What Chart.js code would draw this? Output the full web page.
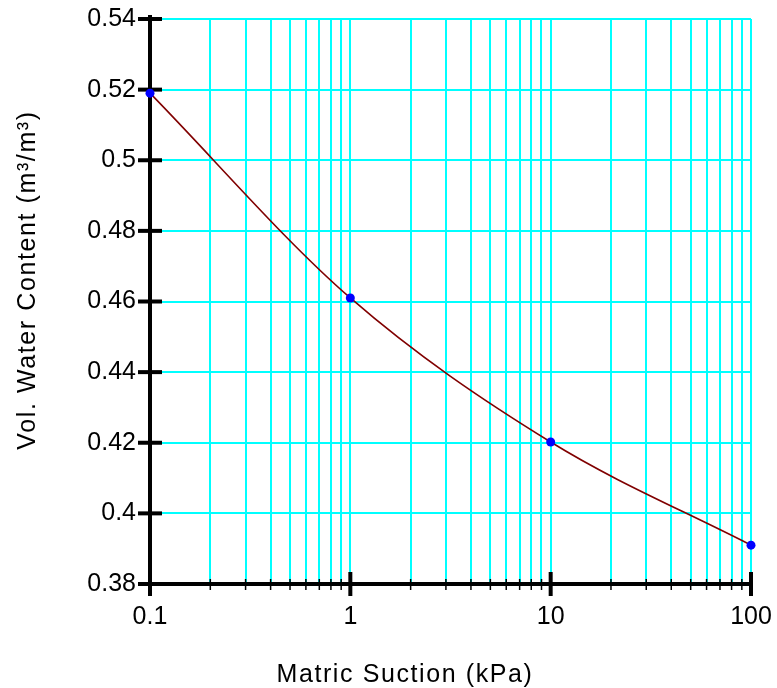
<!DOCTYPE html>
<html>
<head>
<meta charset="utf-8">
<title>Soil water retention</title>
<script src="https://cdn.jsdelivr.net/npm/chart.js@4.4.1/dist/chart.umd.min.js"></script>
<style>
  html, body { margin: 0; padding: 0; background: #fff; }
  #wrap { width: 777px; height: 688px; position: relative; }
</style>
</head>
<body>
<div id="wrap"><canvas id="c" width="777" height="688"></canvas></div>
<script>
// Measured points: matric suction (kPa) vs volumetric water content (m3/m3)
const suction = [0.1, 1, 10, 100];
const waterContent = [0.519, 0.461, 0.4202, 0.391];

// Log-axis grid positions and the decades that get labels
const xTickValues = [0.1, 0.2, 0.3, 0.4, 0.5, 0.6, 0.7, 0.8, 0.9,
                     1, 2, 3, 4, 5, 6, 7, 8, 9,
                     10, 20, 30, 40, 50, 60, 70, 80, 90, 100];
const xMajorTicks = [0.1, 1, 10, 100];
const xMajorLabels = ['0.1', '1', '10', '100'];

const yTickValues = [0.38, 0.40, 0.42, 0.44, 0.46, 0.48, 0.50, 0.52, 0.54];
const yTickLabels = ['0.38', '0.4', '0.42', '0.44', '0.46', '0.48', '0.5', '0.52', '0.54'];

const xTitle = 'Matric Suction (kPa)';
const yTitle = 'Vol. Water Content (m\u00B3/m\u00B3)';

const FONT = '"Liberation Sans", Arial, Helvetica, sans-serif';
const GRID = '#00FFFF';

const points = suction.map((s, i) => ({ x: s, y: waterContent[i] }));

// Black axis lines, tick marks and axis titles
const axisFrame = {
  id: 'axisFrame',
  beforeDatasetsDraw(chart) {
    const { ctx, chartArea: a, scales: { x, y } } = chart;
    const seg = (x1, y1, x2, y2) => { ctx.beginPath(); ctx.moveTo(x1, y1); ctx.lineTo(x2, y2); ctx.stroke(); };
    ctx.save();
    ctx.strokeStyle = '#000';
    ctx.lineCap = 'butt';

    ctx.lineWidth = 1.5;
    xTickValues.forEach(v => {
      if (xMajorTicks.includes(v)) return;
      const px = x.getPixelForValue(v);
      seg(px, a.bottom - 5, px, a.bottom + 6);
    });

    ctx.lineWidth = 4;
    seg(a.left, a.top - 4, a.left, a.bottom + 2);
    seg(a.left - 2, a.bottom, a.right + 2, a.bottom);

    yTickValues.forEach(v => {
      const py = y.getPixelForValue(v);
      seg(a.left - 12, py, a.left + 12, py);
    });
    xMajorTicks.forEach(v => {
      const px = x.getPixelForValue(v);
      seg(px, a.bottom - 12, px, a.bottom + 12);
    });
    ctx.restore();
  },
  afterDraw(chart) {
    const { ctx } = chart;
    ctx.save();
    ctx.fillStyle = '#000';
    ctx.font = '25px ' + FONT;
    ctx.letterSpacing = '1.6px';
    ctx.textAlign = 'center';
    ctx.textBaseline = 'alphabetic';
    ctx.fillText(xTitle, 405, 682);

    ctx.translate(35, 280);
    ctx.rotate(-Math.PI / 2);
    ctx.fillText(yTitle, 0, 0);
    ctx.restore();
  }
};

new Chart(document.getElementById('c'), {
  type: 'scatter',
  data: {
    datasets: [
      {
        label: 'fit',
        data: points,
        showLine: true,
        borderColor: '#800000',
        borderWidth: 1.6,
        cubicInterpolationMode: 'monotone',
        pointRadius: 0,
        pointHoverRadius: 0,
        fill: false,
        clip: false,
        order: 2
      },
      {
        label: 'measured',
        data: points,
        showLine: false,
        pointRadius: 4.5,
        pointBackgroundColor: '#0000FF',
        pointBorderColor: '#0000FF',
        pointBorderWidth: 0,
        clip: false,
        order: 1
      }
    ]
  },
  options: {
    responsive: false,
    animation: false,
    devicePixelRatio: 1,
    layout: { padding: { left: 0, right: 26, top: 19, bottom: 0 } },
    plugins: {
      legend: { display: false },
      tooltip: { enabled: false },
      title: { display: false }
    },
    events: [],
    scales: {
      x: {
        type: 'logarithmic',
        position: 'bottom',
        min: 0.1,
        max: 100,
        afterBuildTicks(scale) {
          scale.ticks = xTickValues.map(v => ({ value: v }));
        },
        afterFit(scale) {
          scale.height = 104;
          scale.paddingLeft = 0;
          scale.paddingRight = 0;
        },
        ticks: {
          autoSkip: false,
          maxRotation: 0,
          minRotation: 0,
          padding: 18,
          color: '#000',
          font: { family: FONT, size: 25 },
          callback(value) {
            const i = xMajorTicks.findIndex(m => Math.abs(m - value) < 1e-9);
            return i >= 0 ? xMajorLabels[i] : '';
          }
        },
        grid: { color: GRID, lineWidth: 2, drawTicks: false },
        border: { display: false }
      },
      y: {
        type: 'linear',
        position: 'left',
        min: 0.38,
        max: 0.54,
        afterBuildTicks(scale) {
          scale.ticks = yTickValues.map(v => ({ value: v }));
        },
        afterFit(scale) {
          scale.width = 150;
          scale.paddingTop = 0;
          scale.paddingBottom = 0;
        },
        ticks: {
          autoSkip: false,
          padding: 14,
          color: '#000',
          font: { family: FONT, size: 25 },
          callback(value) {
            const i = yTickValues.findIndex(m => Math.abs(m - value) < 1e-9);
            return i >= 0 ? yTickLabels[i] : '';
          }
        },
        grid: { color: GRID, lineWidth: 2, drawTicks: false },
        border: { display: false }
      }
    }
  },
  plugins: [axisFrame]
});
</script>
</body>
</html>
